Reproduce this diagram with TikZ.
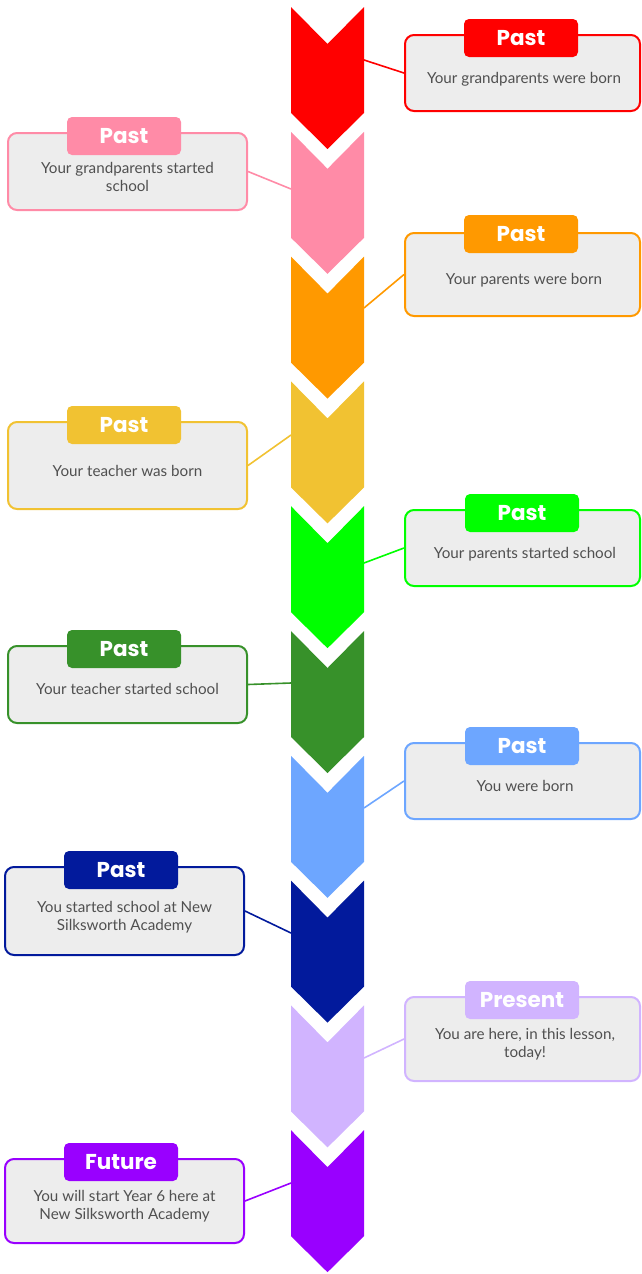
\documentclass[tikz,border=0pt]{standalone}
\usepackage{fontspec}
\setmainfont{Lato}
\newfontfamily\tabfont{Poppins}
\definecolor{tlRed}{HTML}{FF0000}
\definecolor{tlPink}{HTML}{FF8BA7}
\definecolor{tlOrange}{HTML}{FF9900}
\definecolor{tlYellow}{HTML}{F1C232}
\definecolor{tlGreen}{HTML}{00FF00}
\definecolor{tlDkGreen}{HTML}{37912A}
\definecolor{tlBlue}{HTML}{6DA6FF}
\definecolor{tlNavy}{HTML}{021A9C}
\definecolor{tlLilac}{HTML}{D1B4FF}
\definecolor{tlPurple}{HTML}{9900FF}
\definecolor{boxgrey}{HTML}{EDEDED}
\definecolor{txtgrey}{HTML}{505050}
\tikzset{
  evbox/.style={draw=#1, fill=boxgrey, line width=2pt, rounded corners=9pt, minimum width=235pt, inner sep=0pt},
  evtab/.style={fill=#1, rounded corners=5pt, minimum width=114pt, minimum height=38pt, inner sep=0pt,
    text=white, font=\tabfont\bfseries\fontsize{21.5}{24}\selectfont},
  evtext/.style={text=txtgrey, align=center, font=\fontsize{15.2}{18.5}\selectfont},
  link/.style={draw=#1, line width=1.6pt}
}

\begin{document}
\begin{tikzpicture}[x=1pt,y=-1pt]
  \useasboundingbox (0,0) rectangle (642,1274);

  \fill[tlRed] (291,7) -- (327.5,44) -- (364,7) -- (364,113) -- (327.5,149) -- (291,113) -- cycle;
  \fill[tlPink] (291,131.8) -- (327.5,168.8) -- (364,131.8) -- (364,237.8) -- (327.5,273.8) -- (291,237.8) -- cycle;
  \fill[tlOrange] (291,256.6) -- (327.5,293.6) -- (364,256.6) -- (364,362.6) -- (327.5,398.6) -- (291,362.6) -- cycle;
  \fill[tlYellow] (291,381.4) -- (327.5,418.4) -- (364,381.4) -- (364,487.4) -- (327.5,523.4) -- (291,487.4) -- cycle;
  \fill[tlGreen] (291,506.2) -- (327.5,543.2) -- (364,506.2) -- (364,612.2) -- (327.5,648.2) -- (291,612.2) -- cycle;
  \fill[tlDkGreen] (291,631) -- (327.5,668) -- (364,631) -- (364,737) -- (327.5,773) -- (291,737) -- cycle;
  \fill[tlBlue] (291,755.8) -- (327.5,792.8) -- (364,755.8) -- (364,861.8) -- (327.5,897.8) -- (291,861.8) -- cycle;
  \fill[tlNavy] (291,880.6) -- (327.5,917.6) -- (364,880.6) -- (364,986.6) -- (327.5,1022.6) -- (291,986.6) -- cycle;
  \fill[tlLilac] (291,1005.4) -- (327.5,1042.4) -- (364,1005.4) -- (364,1111.4) -- (327.5,1147.4) -- (291,1111.4) -- cycle;
  \fill[tlPurple] (291,1130.2) -- (327.5,1167.2) -- (364,1130.2) -- (364,1236.2) -- (327.5,1272.2) -- (291,1236.2) -- cycle;

  \coordinate (cRed) at (364,60);
  \coordinate (cPink) at (291,189);
  \coordinate (cOrange) at (364,308);
  \coordinate (cYellow) at (291,435);
  \coordinate (cGreen) at (364,563);
  \coordinate (cDkGreen) at (291,683);
  \coordinate (cBlue) at (364,808);
  \coordinate (cNavy) at (291,933);
  \coordinate (cLilac) at (364,1058);
  \coordinate (cPurple) at (291,1183);

  \node[evbox=tlRed, minimum height=76pt] (bRed) at (522.5,73) {};
  \node[evbox=tlPink, minimum height=77pt, minimum width=239pt] (bPink) at (127.5,171.5) {};
  \node[evbox=tlOrange, minimum height=83pt] (bOrange) at (522.5,274.5) {};
  \node[evbox=tlYellow, minimum height=87pt, minimum width=239pt] (bYellow) at (127.5,465.5) {};
  \node[evbox=tlGreen, minimum height=76pt] (bGreen) at (522.5,548) {};
  \node[evbox=tlDkGreen, minimum height=77pt, minimum width=239pt] (bDkGreen) at (127.5,684.5) {};
  \node[evbox=tlBlue, minimum height=76pt] (bBlue) at (522.5,781) {};
  \node[evbox=tlNavy, minimum height=88pt, minimum width=239pt] (bNavy) at (124.5,911) {};
  \node[evbox=tlLilac, minimum height=84pt] (bLilac) at (522.5,1039) {};
  \node[evbox=tlPurple, minimum height=84pt, minimum width=239pt] (bPurple) at (124.5,1201) {};

  \draw[link=tlRed] (bRed.west) -- (cRed);
  \draw[link=tlPink] (bPink.east) -- (cPink);
  \draw[link=tlOrange] (bOrange.west) -- (cOrange);
  \draw[link=tlYellow] (bYellow.east) -- (cYellow);
  \draw[link=tlGreen] (bGreen.west) -- (cGreen);
  \draw[link=tlDkGreen] (bDkGreen.east) -- (cDkGreen);
  \draw[link=tlBlue] (bBlue.west) -- (cBlue);
  \draw[link=tlNavy] (bNavy.east) -- (cNavy);
  \draw[link=tlLilac] (bLilac.west) -- (cLilac);
  \draw[link=tlPurple] (bPurple.east) -- (cPurple);

  \node[evtab=tlRed] (tRed) at (521,38) {Past};
  \node[evtab=tlPink] (tPink) at (124,136) {Past};
  \node[evtab=tlOrange] (tOrange) at (521,234) {Past};
  \node[evtab=tlYellow] (tYellow) at (124,425) {Past};
  \node[evtab=tlGreen] (tGreen) at (522,513) {Past};
  \node[evtab=tlDkGreen] (tDkGreen) at (124,649) {Past};
  \node[evtab=tlBlue] (tBlue) at (522,746) {Past};
  \node[evtab=tlNavy] (tNavy) at (121,870) {Past};
  \node[evtab=tlLilac] (tLilac) at (522,1000) {Present};
  \node[evtab=tlPurple] (tPurple) at (121,1162) {Future};

  \node[evtext] (xRed) at (524,79) {Your grandparents were born};
  \node[evtext] (xPink) at (127.5,177) {Your grandparents started\\school};
  \node[evtext] (xOrange) at (524,280) {Your parents were born};
  \node[evtext] (xYellow) at (127.5,471) {Your teacher was born};
  \node[evtext] (xGreen) at (525,554) {Your parents started school};
  \node[evtext] (xDkGreen) at (127.5,689) {Your teacher started school};
  \node[evtext] (xBlue) at (525,786) {You were born};
  \node[evtext] (xNavy) at (124.5,917) {You started school at New\\Silksworth Academy};
  \node[evtext] (xLilac) at (525,1044) {You are here, in this lesson,\\today!};
  \node[evtext] (xPurple) at (124.5,1206) {You will start Year 6 here at\\New Silksworth Academy};
\end{tikzpicture}
\end{document}
